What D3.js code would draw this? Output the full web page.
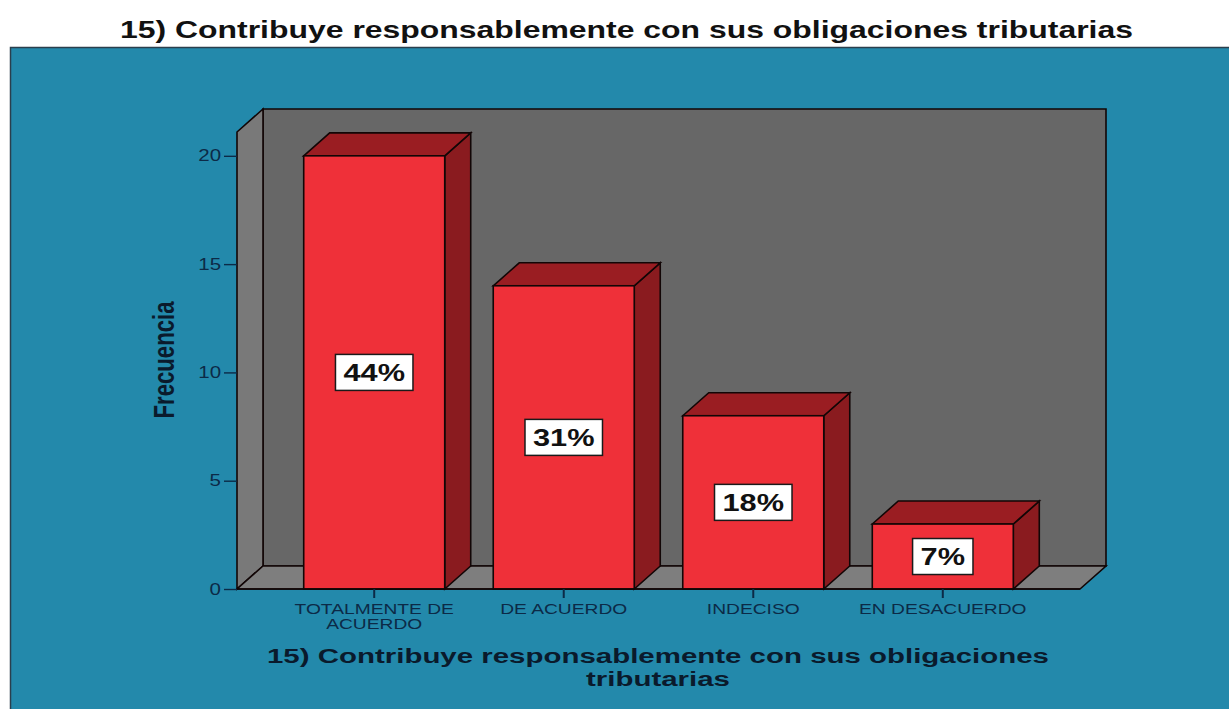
<!DOCTYPE html>
<html>
<head>
<meta charset="utf-8">
<script src="https://cdn.jsdelivr.net/npm/d3@7"></script>
<style>
  html, body { margin: 0; padding: 0; background: #ffffff; }
  svg { display: block; }
  text { font-family: "Liberation Sans", Arial, sans-serif; }
</style>
</head>
<body>
<svg id="chart" width="1229" height="709"></svg>
<script>
// ---- data ----
const chartTitle = "15) Contribuye responsablemente con sus obligaciones tributarias";
const xAxisTitleLines = ["15) Contribuye responsablemente con sus obligaciones", "tributarias"];
const yAxisTitle = "Frecuencia";
const categories = ["TOTALMENTE DE ACUERDO", "DE ACUERDO", "INDECISO", "EN DESACUERDO"];
const frequencies = [20, 14, 8, 3];
const yTickValues = [0, 5, 10, 15, 20];

// ---- layout ----
const W = 1229, H = 709;
const K = 1.28;                 // horizontal text stretch seen in the reference
const depth = { dx: 26, dy: -23 };
const plot = { x0: 237, x1: 1080, y0: 589, yTop: 132 };
const yMax = 21.1;

const colors = {
  bg: "#2389ab",
  backWall: "#676767",
  sideWall: "#797979",
  floor: "#7e7e7e",
  barFront: "#ef3039",
  barTop: "#9a1d22",
  barSide: "#8a1b1f",
  edge: "#120606",
  axisText: "#0c2a47",
  title: "#111111",
  xTitle: "#0a1a2c"
};

const svg = d3.select("#chart");

function stretch(sel, k) {
  sel.each(function () {
    const L = this.getComputedTextLength();
    this.setAttribute("textLength", L * k);
    this.setAttribute("lengthAdjust", "spacingAndGlyphs");
  });
}
function fitTo(sel, w) {
  sel.attr("textLength", w).attr("lengthAdjust", "spacingAndGlyphs");
}

// background panel
svg.append("rect").attr("x", 0).attr("y", 0).attr("width", W).attr("height", H).attr("fill", "#ffffff");
svg.append("rect").attr("x", 10.5).attr("y", 47.5).attr("width", W).attr("height", H)
  .attr("fill", colors.bg).attr("stroke", "#2a3f4d").attr("stroke-width", 1.5);

// title
svg.append("text").attr("x", 626.5).attr("y", 38).attr("text-anchor", "middle")
  .attr("font-size", 24).attr("font-weight", "bold").attr("fill", colors.title)
  .text(chartTitle).call(fitTo, 1013);

// scales
const y = d3.scaleLinear().domain([0, yMax]).range([plot.y0, plot.yTop]);
const x = d3.scaleBand().domain(categories).range([plot.x0, plot.x1])
  .paddingInner(0.256).paddingOuter(0.352);

const { dx, dy } = depth;
const yT = y(yMax), y0 = y(0);
const line = d3.line();

// walls
const gWalls = svg.append("g").attr("stroke", colors.edge).attr("stroke-width", 1.6).attr("stroke-linejoin", "miter");
gWalls.append("path").attr("fill", colors.backWall)
  .attr("d", line([[plot.x0 + dx, yT + dy], [plot.x1 + dx, yT + dy], [plot.x1 + dx, y0 + dy], [plot.x0 + dx, y0 + dy]]) + "Z");
gWalls.append("path").attr("fill", colors.sideWall)
  .attr("d", line([[plot.x0, y0], [plot.x0, yT], [plot.x0 + dx, yT + dy], [plot.x0 + dx, y0 + dy]]) + "Z");
gWalls.append("path").attr("fill", colors.floor)
  .attr("d", line([[plot.x0, y0], [plot.x1, y0], [plot.x1 + dx, y0 + dy], [plot.x0 + dx, y0 + dy]]) + "Z");

// bars
const data = categories.map((c, i) => ({ c, v: frequencies[i] }));
const total = d3.sum(frequencies);
const bw = x.bandwidth();
const gBars = svg.append("g").attr("stroke", colors.edge).attr("stroke-width", 1.6).attr("stroke-linejoin", "miter");
const bar = gBars.selectAll("g.bar").data(data).join("g").attr("class", "bar");
bar.append("path").attr("fill", colors.barSide).attr("d", d => {
  const xr = x(d.c) + bw, yt = y(d.v);
  return line([[xr, yt], [xr + dx, yt + dy], [xr + dx, y0 + dy], [xr, y0]]) + "Z";
});
bar.append("path").attr("fill", colors.barTop).attr("d", d => {
  const xl = x(d.c), xr = xl + bw, yt = y(d.v);
  return line([[xl, yt], [xl + dx, yt + dy], [xr + dx, yt + dy], [xr, yt]]) + "Z";
});
bar.append("rect").attr("fill", colors.barFront)
  .attr("x", d => x(d.c)).attr("y", d => y(d.v))
  .attr("width", bw).attr("height", d => y0 - y(d.v));

// percentage labels
const lab = svg.selectAll("g.pct").data(data).join("g").attr("class", "pct")
  .attr("transform", d => `translate(${x(d.c) + bw / 2},${y(d.v / 2)})`);
const labBox = lab.append("rect").attr("fill", "#ffffff").attr("stroke", "#1a1a1a").attr("stroke-width", 1.5);
const labText = lab.append("text").attr("text-anchor", "middle").attr("dy", "0.36em")
  .attr("font-size", 24).attr("font-weight", "bold").attr("fill", "#111111")
  .text(d => Math.round(d.v / total * 100) + "%");
stretch(labText, K);
labBox.each(function (d, i) {
  const tw = +labText.nodes()[i].getAttribute("textLength");
  d3.select(this).attr("x", -(tw / 2 + 8)).attr("y", -18).attr("width", tw + 16).attr("height", 36);
});

// y axis
const gy = svg.append("g").attr("transform", `translate(${plot.x0},0)`)
  .call(d3.axisLeft(y).tickValues(yTickValues).tickSize(13).tickPadding(3));
gy.select(".domain").remove();
gy.selectAll(".tick line").attr("stroke", colors.axisText).attr("stroke-width", 1.4);
gy.selectAll(".tick text").attr("font-size", 16).attr("fill", colors.axisText)
  .attr("font-family", '"Liberation Sans", Arial, sans-serif').call(stretch, K);

// front floor edge (x axis line)
svg.append("line").attr("x1", plot.x0).attr("x2", plot.x1).attr("y1", y0).attr("y2", y0)
  .attr("stroke", colors.edge).attr("stroke-width", 1.6);

// x axis
const gx = svg.append("g").attr("transform", `translate(0,${y0})`)
  .call(d3.axisBottom(x).tickSize(9).tickFormat(""));
gx.select(".domain").remove();
gx.selectAll(".tick line").attr("stroke", colors.axisText).attr("stroke-width", 2);

// category labels (wrapped to the band step)
const step = x.step();
categories.forEach(c => {
  const cx = x(c) + bw / 2;
  const words = c.split(" ");
  const lines = [];
  let cur = "";
  const probe = svg.append("text").attr("font-size", 15);
  words.forEach(w => {
    const t = cur ? cur + " " + w : w;
    probe.text(t);
    if (probe.node().getComputedTextLength() * K > step * 0.95 && cur) {
      lines.push(cur); cur = w;
    } else cur = t;
  });
  lines.push(cur);
  probe.remove();
  lines.forEach((ln, j) => {
    svg.append("text").attr("x", cx).attr("y", 614 + j * 15).attr("text-anchor", "middle")
      .attr("font-size", 15).attr("fill", colors.axisText).text(ln).call(stretch, K);
  });
});

// x axis title
const xt1 = svg.append("text").attr("x", 658).attr("y", 663).attr("text-anchor", "middle")
  .attr("font-size", 20).attr("font-weight", "bold").attr("fill", colors.xTitle)
  .text(xAxisTitleLines[0]);
const natural1 = xt1.node().getComputedTextLength();
const kx = 782 / natural1;
xt1.call(fitTo, 782);
svg.append("text").attr("x", 658).attr("y", 686).attr("text-anchor", "middle")
  .attr("font-size", 20).attr("font-weight", "bold").attr("fill", colors.xTitle)
  .text(xAxisTitleLines[1]).call(stretch, kx);

// y axis title
svg.append("text").attr("transform", "translate(164,360) rotate(-90) scale(1,1.3)")
  .attr("text-anchor", "middle").attr("dy", "0.36em")
  .attr("font-size", 22).attr("font-weight", "bold").attr("fill", colors.xTitle)
  .text(yAxisTitle).call(fitTo, 117);
</script>
</body>
</html>
